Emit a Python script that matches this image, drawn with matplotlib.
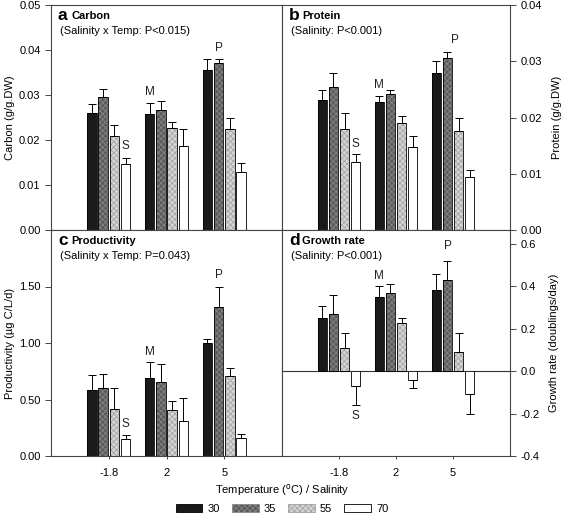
import matplotlib
matplotlib.use('Agg')
import matplotlib.pyplot as plt
import numpy as np
from matplotlib.patches import Patch
from matplotlib.ticker import FormatStrFormatter

plt.rcParams['font.family'] = ['Liberation Sans', 'DejaVu Sans']
plt.rcParams['font.size'] = 8
plt.rcParams['hatch.linewidth'] = 0.5

# 温度组与盐度
temps = ['-1.8', '2', '5']
salinity = ['30', '35', '55', '70']

# 每个盐度一行，每列一个温度
carbon = [[0.0260, 0.0258, 0.0355],
          [0.0295, 0.0266, 0.0371],
          [0.0208, 0.0227, 0.0224],
          [0.0147, 0.0186, 0.0129]]
carbon_err = [[0.0019, 0.0025, 0.0024],
              [0.0019, 0.0020, 0.0009],
              [0.0026, 0.0013, 0.0026],
              [0.0013, 0.0038, 0.0019]]

protein = [[0.0231, 0.0228, 0.0280],
           [0.0255, 0.0241, 0.0305],
           [0.0180, 0.0190, 0.0176],
           [0.0121, 0.0147, 0.0094]]
protein_err = [[0.0018, 0.0011, 0.0021],
               [0.0025, 0.0008, 0.0012],
               [0.0028, 0.0013, 0.0023],
               [0.0014, 0.0020, 0.0012]]

productivity = [[0.587, 0.690, 0.998],
                [0.599, 0.652, 1.318],
                [0.420, 0.408, 0.704],
                [0.150, 0.314, 0.156]]
productivity_err = [[0.130, 0.138, 0.040],
                    [0.126, 0.164, 0.180],
                    [0.180, 0.080, 0.077],
                    [0.040, 0.200, 0.040]]

growth = [[0.249, 0.350, 0.380],
          [0.270, 0.370, 0.430],
          [0.110, 0.229, 0.089],
          [-0.072, -0.041, -0.110]]
growth_err = [[0.060, 0.050, 0.078],
              [0.090, 0.040, 0.088],
              [0.069, 0.020, 0.090],
              [0.090, 0.040, 0.092]]

# 字母标注: (文字, 温度序号, 盐度槽位, y)
marks_a = [('S', 0, 3, 0.0186), ('M', 1, 0, 0.0307), ('P', 2, 1, 0.0404)]
marks_b = [('S', 0, 3, 0.0153), ('M', 1, 0, 0.0258), ('P', 2, 1.7, 0.0337)]
marks_c = [('S', 0, 3, 0.282), ('M', 1, 0, 0.919), ('P', 2, 1, 1.60)]
marks_d = [('S', 0, 3, -0.212), ('M', 1, 0, 0.45), ('P', 2, 1, 0.591)]

face = ['#1a1a1a', '#5c5c5c', '#d4d4d4', 'white']
hatch = [None, 'xxxxxx', 'xxxxxx', None]
hcol = ['#1a1a1a', '#8a8a8a', '#a0a0a0', 'black']

x = np.arange(1, 4)
step = 0.195
width = 0.165
spine_c = '#444444'

fig = plt.figure(figsize=(5.63, 5.16), dpi=100)
W, H = 563, 516


def axes_px(x0, y0, x1, y1):
    return fig.add_axes([x0 / W, 1 - y1 / H, (x1 - x0) / W, (y1 - y0) / H])


ax_a = axes_px(51, 5, 282, 230)
ax_b = axes_px(282, 5, 510, 230)
ax_c = axes_px(51, 230, 282, 456)
ax_d = axes_px(282, 230, 510, 456)


def draw(ax, vals, errs, marks, letter, title, sub, ylim, ticks, fmt, ylabel, right, bottom):
    for i in range(4):
        pos = x + (i - 1.5) * step
        v = np.array(vals[i])
        e = np.array(errs[i])
        ax.bar(pos, v, width, color=face[i], hatch=hatch[i], edgecolor=hcol[i], linewidth=0, zorder=2)
        ax.bar(pos, v, width, fill=False, edgecolor='black', linewidth=0.6, zorder=3)
        lower = np.where(v < 0, e, 0)
        upper = np.where(v >= 0, e, 0)
        ax.errorbar(pos, v, yerr=[lower, upper], fmt='none', ecolor='black',
                    elinewidth=0.7, capsize=3, capthick=0.7, zorder=4)
    for t, gi, slot, yy in marks:
        ax.text(x[gi] + (slot - 1.5) * step, yy, t, ha='center', va='center', fontsize=8.5, color='#222222')
    ax.text(0.03, 0.955, letter, transform=ax.transAxes, fontsize=12.5, fontweight='bold', va='center')
    ax.text(0.088, 0.950, title, transform=ax.transAxes, fontsize=8, fontweight='bold', va='center')
    ax.text(0.04, 0.885, sub, transform=ax.transAxes, fontsize=8, va='center')
    ax.set_xlim(0, 4)
    ax.set_ylim(*ylim)
    ax.set_yticks(ticks)
    ax.yaxis.set_major_formatter(FormatStrFormatter(fmt))
    for s in ax.spines.values():
        s.set_color(spine_c)
        s.set_linewidth(0.8)
    if right:
        ax.yaxis.tick_right()
        ax.yaxis.set_label_position('right')
        ax.set_ylabel(ylabel, fontsize=8, labelpad=7)
    else:
        ax.set_ylabel(ylabel, fontsize=8, labelpad=3)
    ax.tick_params(axis='y', direction='out', length=4, width=0.7, color=spine_c, labelsize=8)
    if bottom:
        ax.set_xticks(x)
        ax.set_xticklabels(temps)
        ax.tick_params(axis='x', direction='out', length=2.5, width=0.7, color=spine_c, labelsize=8, pad=6)
    else:
        ax.set_xticks([])


draw(ax_a, carbon, carbon_err, marks_a, 'a', 'Carbon', '(Salinity x Temp: P<0.015)',
     (0, 0.05), np.arange(0, 0.051, 0.01), '%.2f', 'Carbon (g/g.DW)', False, False)
draw(ax_b, protein, protein_err, marks_b, 'b', 'Protein', '(Salinity: P<0.001)',
     (0, 0.04), np.arange(0, 0.041, 0.01), '%.2f', 'Protein (g/g.DW)', True, False)
draw(ax_c, productivity, productivity_err, marks_c, 'c', 'Productivity', '(Salinity x Temp: P=0.043)',
     (0, 2.0), np.arange(0, 1.51, 0.5), '%.2f', 'Productivity (µg C/L/d)', False, True)
draw(ax_d, growth, growth_err, marks_d, 'd', 'Growth rate', '(Salinity: P<0.001)',
     (-0.4, 0.665), np.arange(-0.4, 0.61, 0.2), '%.1f', 'Growth rate (doublings/day)', True, True)
ax_d.axhline(0, color='#333333', linewidth=0.8, zorder=1)

fig.text(282 / W, 1 - 490 / H, r'Temperature ($^{\rm o}$C) / Salinity', ha='center', va='center', fontsize=8)

handles = [Patch(facecolor=face[i], hatch=hatch[i], edgecolor=('black' if i in (0, 3) else hcol[i]),
                 linewidth=0.6, label=salinity[i]) for i in range(4)]
fig.legend(handles=handles, ncol=4, loc='center', bbox_to_anchor=(282 / W, 1 - 509 / H),
           frameon=False, fontsize=8, handlelength=2.4, handleheight=0.7,
           handletextpad=0.45, columnspacing=1.1)

fig.savefig('out.png', dpi=100)
